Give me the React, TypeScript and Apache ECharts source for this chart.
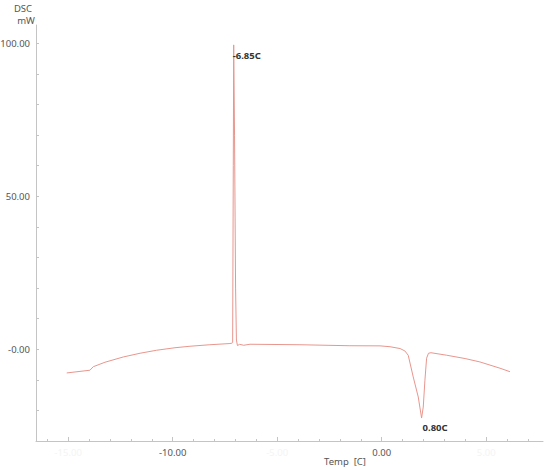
import React, { useEffect, useRef } from "react";
import * as echarts from "echarts";

const tempC: number[] = [
  -15.07, -13.96, -13.8, -13.24, -12.36, -11.56, -10.77, -9.89, -9.17, -8.22, -7.26, -7.16,
  -7.13, -7.1, -7.08, -7.04, -6.99, -6.95, -6.9, -6.8, -6.6,
  -6.3, -3.91, -1.52, -0.08, 0.4, 0.88, 1.11, 1.27, 1.51, 1.75, 1.91, 1.99, 2.07, 2.15, 2.24, 2.36,
  3.11, 3.99, 4.7, 5.66, 6.14,
];
const dscMW: number[] = [
  -7.75, -6.86, -5.72, -4.25, -2.52, -1.31, -0.33, 0.49, 0.98, 1.47, 1.86, 2.0,
  2.2, 60, 99.5, 70, 20, 3, 1.2, 1.6, 1.3,
  1.63, 1.47, 1.14, 1.1, 0.82, 0.23, -0.56, -1.96, -9.05, -15.6, -22.5, -18.9, -10.1, -2.94, -1.31, -1.14,
  -1.96, -3.04, -4.15, -6.2, -7.35,
];

const peakNames: string[] = ["-6.85C", "0.80C"];
const peakTemps: number[] = [-7.08, 1.91];
const peakValues: number[] = [99.5, -22.5];

const xMajorTicks: number[] = [-15, -10, -5, 0, 5];
const xMinorTicks: number[] = [-16, -15, -14, -13, -12, -11, -10, -9, -8, -7, -6, -5, -4, -3, -2, -1, 0, 1, 2, 3, 4, 5, 6, 7];
const xStrongLabels: number[] = [-10, 0];
const yTicks: number[] = [-30, -20, -10, 0, 10, 20, 30, 40, 50, 60, 70, 80, 90, 100];
const yLabels: number[] = [0, 50, 100];

const FONT = "Noto Sans";
const FS = 9.5;

export default function App() {
  const ref = useRef<HTMLDivElement>(null);

  useEffect(() => {
    if (!ref.current) return;
    const chart = echarts.init(ref.current, undefined, { renderer: "svg" });
    const axisColor = "#c4c4c4";
    const xMin = -16.54;
    const xMax = 7.72;

    chart.setOption({
      animation: false,
      backgroundColor: "#ffffff",
      textStyle: { fontFamily: FONT },
      grid: { left: 36, right: 7, top: 25, bottom: 29, containLabel: false, outerBoundsMode: "none" },
      graphic: [
        { type: "text", x: 23, y: 8, style: { text: "DSC", fill: "#555", fontSize: FS, fontFamily: FONT, textAlign: "center", textVerticalAlign: "middle" } },
        { type: "text", x: 26, y: 20, style: { text: "mW", fill: "#555", fontSize: FS, fontFamily: FONT, textAlign: "center", textVerticalAlign: "middle" } },
        { type: "text", x: 345, y: 461, style: { text: "Temp  [C]", fill: "#555", fontSize: FS, fontFamily: FONT, textAlign: "center", textVerticalAlign: "middle" } },
      ],
      xAxis: [
        {
          type: "value",
          min: xMin,
          max: xMax,
          axisLine: { show: true, onZero: false, lineStyle: { color: axisColor, width: 1 } },
          axisTick: { show: true, inside: true, length: 4, customValues: xMajorTicks, lineStyle: { color: axisColor } },
          axisLabel: {
            show: true,
            customValues: xMajorTicks,
            margin: 6,
            fontSize: FS,
            fontFamily: FONT,
            color: "#555",
            formatter: (v: number) => {
              const s = v.toFixed(2);
              return xStrongLabels.indexOf(v) >= 0 ? s : "{f|" + s + "}";
            },
            rich: { f: { color: "#f4f4f4", fontSize: FS, fontFamily: FONT } },
          },
          splitLine: { show: false },
        },
        {
          type: "value",
          min: xMin,
          max: xMax,
          position: "bottom",
          axisLine: { show: false, onZero: false },
          axisTick: { show: true, inside: true, length: 2, customValues: xMinorTicks, lineStyle: { color: axisColor } },
          axisLabel: { show: false },
          splitLine: { show: false },
        },
      ],
      yAxis: {
        type: "value",
        min: -30,
        max: 106,
        axisLine: { show: true, onZero: false, lineStyle: { color: axisColor, width: 1 } },
        axisTick: { show: true, inside: true, length: 3, customValues: yTicks, lineStyle: { color: axisColor } },
        axisLabel: {
          show: true,
          customValues: yLabels,
          margin: 6,
          fontSize: FS,
          fontFamily: FONT,
          color: "#555",
          formatter: (v: number) => (v === 0 ? "-0.00" : v.toFixed(2)),
        },
        splitLine: { show: false },
      },
      series: [
        {
          type: "line",
          xAxisIndex: 0,
          data: tempC.map((t, i) => [t, dscMW[i]]),
          showSymbol: false,
          symbol: "none",
          lineStyle: { color: "#e8968d", width: 1 },
          silent: true,
          markPoint: {
            symbol: "circle",
            symbolSize: 0,
            silent: true,
            data: peakNames.map((name, i) => ({
              name,
              coord: [peakTemps[i], peakValues[i]],
              label: {
                show: true,
                formatter: name,
                position: i === 0 ? [-1, 11] : [1, 9],
                align: "left",
                verticalAlign: "middle",
                color: "#333",
                fontSize: FS,
                fontWeight: "bold",
                fontFamily: FONT,
              },
            })),
          },
        },
      ],
    });

    return () => chart.dispose();
  }, []);

  return <div ref={ref} style={{ position: "absolute", left: 0, top: 0, width: 550, height: 470 }} />;
}
